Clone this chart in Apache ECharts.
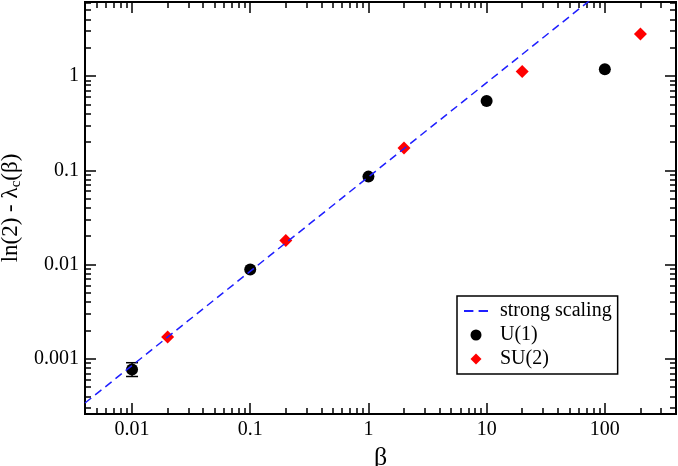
<!DOCTYPE html>
<html>
<head>
<meta charset="utf-8">
<script src="https://cdn.jsdelivr.net/npm/echarts@6/dist/echarts.min.js"></script>
<style>
  html, body { margin: 0; padding: 0; background: #fff; }
  #chart { width: 678px; height: 466px; }
</style>
</head>
<body>
<div id="chart"></div>
<script>
// data
const u1Beta = [0.01, 0.1, 1, 10, 100];
const u1Value = [0.00077, 0.00885, 0.0857, 0.543, 1.18];
const u1ErrLow = [0.00065];
const u1ErrHigh = [0.00091];
const su2Beta = [0.02, 0.2, 2, 20, 200];
const su2Value = [0.00171, 0.018, 0.172, 1.12, 2.79];
const scalingBeta = [0.004, 100];
const scalingValue = [0.00034, 8.5];

// axes
const xMin = 0.004, xMax = 400;
const yMin = 0.00026, yMax = 6.1;
const xMajor = [0.01, 0.1, 1, 10, 100];
const xTickLabels = ['0.01', '0.1', '1', '10', '100'];
const yMajor = [0.001, 0.01, 0.1, 1];
const yTickLabels = ['0.001', '0.01', '0.1', '1'];
const minorSteps = [2, 3, 4, 5, 6, 7, 8, 9];

function minorTicks(min, max) {
  const out = [];
  for (let e = Math.floor(Math.log10(min)); e <= Math.ceil(Math.log10(max)); e++) {
    minorSteps.forEach(m => {
      const v = m * Math.pow(10, e);
      if (v > min && v < max) out.push(v);
    });
  }
  return out;
}

function labelFor(majors, labels) {
  return function (v) {
    for (let i = 0; i < majors.length; i++) {
      if (Math.abs(Math.log10(v) - Math.log10(majors[i])) < 1e-6) return labels[i];
    }
    return '';
  };
}

const font = 'Liberation Serif';
const axisLine = { show: true, lineStyle: { color: '#000', width: 2 } };

function xAxisDef(pos, minor) {
  return {
    type: 'log', position: pos, min: xMin, max: xMax,
    axisLine: axisLine,
    splitLine: { show: false },
    axisTick: {
      show: true, inside: true, length: minor ? 6 : 11,
      customValues: minor ? minorTicks(xMin, xMax) : xMajor,
      lineStyle: { color: '#000', width: 1.5 }
    },
    axisLabel: {
      show: pos === 'bottom' && !minor,
      customValues: xMajor,
      formatter: labelFor(xMajor, xTickLabels),
      fontFamily: font, fontSize: 20, color: '#000', margin: 6
    },
    name: pos === 'bottom' && !minor ? 'β' : '',
    nameLocation: 'middle', nameGap: 25,
    nameTextStyle: { fontFamily: font, fontSize: 26, color: '#000' }
  };
}

function yAxisDef(pos, minor) {
  return {
    type: 'log', position: pos, min: yMin, max: yMax,
    axisLine: axisLine,
    splitLine: { show: false },
    axisTick: {
      show: true, inside: true, length: minor ? 6 : 11,
      customValues: minor ? minorTicks(yMin, yMax) : yMajor,
      lineStyle: { color: '#000', width: 1.5 }
    },
    axisLabel: {
      show: pos === 'left' && !minor,
      customValues: yMajor,
      formatter: labelFor(yMajor, yTickLabels),
      fontFamily: font, fontSize: 20, color: '#000', margin: 6
    },
    name: pos === 'left' && !minor ? 'ln(2) - λ{sub|c}(β)' : '',
    nameLocation: 'middle', nameGap: 55, nameRotate: 90,
    nameTextStyle: {
      fontFamily: font, fontSize: 23, color: '#000',
      rich: { sub: { fontFamily: font, fontSize: 15, color: '#000', verticalAlign: 'bottom', padding: [10, 0, 0, 0] } }
    }
  };
}

const chart = echarts.init(document.getElementById('chart'), null, { renderer: 'canvas' });

const option = {
  animation: false,
  backgroundColor: '#fff',
  grid: { left: 85, right: 2, top: 2, bottom: 52, containLabel: false, outerBoundsMode: 'none' },
  xAxis: [xAxisDef('bottom', false), xAxisDef('bottom', true), xAxisDef('top', false), xAxisDef('top', true)],
  yAxis: [yAxisDef('left', false), yAxisDef('left', true), yAxisDef('right', false), yAxisDef('right', true)],
  legend: {
    orient: 'vertical', left: 457, top: 296,
    data: [
      { name: 'strong scaling', icon: 'path://M0,0H9V2H0Z M14,0H23V2H14Z' },
      { name: 'U(1)', icon: 'circle' },
      { name: 'SU(2)', icon: 'path://M5,0L10,5L5,10L0,5Z' }
    ],
    symbolKeepAspect: true,
    backgroundColor: '#fff', borderColor: '#000', borderWidth: 1.5, borderRadius: 0,
    padding: [5, 6, 5, 7], itemGap: 4, itemWidth: 24, itemHeight: 11,
    textStyle: { fontFamily: font, fontSize: 20, color: '#000', lineHeight: 20, padding: [0, 0, 0, 7] }
  },
  series: [
    {
      name: 'strong scaling', type: 'line', symbol: 'none', clip: true,
      data: scalingBeta.map((b, i) => [b, scalingValue[i]]),
      lineStyle: { color: '#1f1fff', width: 1.5, type: [8, 5] },
      itemStyle: { color: '#1f1fff' }
    },
    {
      name: 'U(1)err', type: 'custom',
      data: u1ErrLow.map((lo, i) => [u1Beta[i], lo, u1ErrHigh[i]]),
      encode: { x: 0, y: [1, 2] },
      renderItem: function (params, api) {
        const lo = api.coord([api.value(0), api.value(1)]);
        const hi = api.coord([api.value(0), api.value(2)]);
        const cap = 6;
        const style = { stroke: '#000', lineWidth: 1.5 };
        return {
          type: 'group',
          children: [
            { type: 'line', shape: { x1: lo[0], y1: lo[1], x2: hi[0], y2: hi[1] }, style: style },
            { type: 'line', shape: { x1: lo[0] - cap, y1: lo[1], x2: lo[0] + cap, y2: lo[1] }, style: style },
            { type: 'line', shape: { x1: hi[0] - cap, y1: hi[1], x2: hi[0] + cap, y2: hi[1] }, style: style }
          ]
        };
      }
    },
    {
      name: 'U(1)', type: 'scatter', symbol: 'circle', symbolSize: 12,
      data: u1Beta.map((b, i) => [b, u1Value[i]]),
      itemStyle: { color: '#000', opacity: 1 }
    },
    {
      name: 'SU(2)', type: 'scatter', symbol: 'diamond', symbolSize: 13,
      data: su2Beta.map((b, i) => [b, su2Value[i]]),
      itemStyle: { color: '#ff0000', opacity: 1 }
    }
  ]
};

chart.setOption(option);
window.addEventListener('resize', () => chart.resize());
</script>
</body>
</html>
